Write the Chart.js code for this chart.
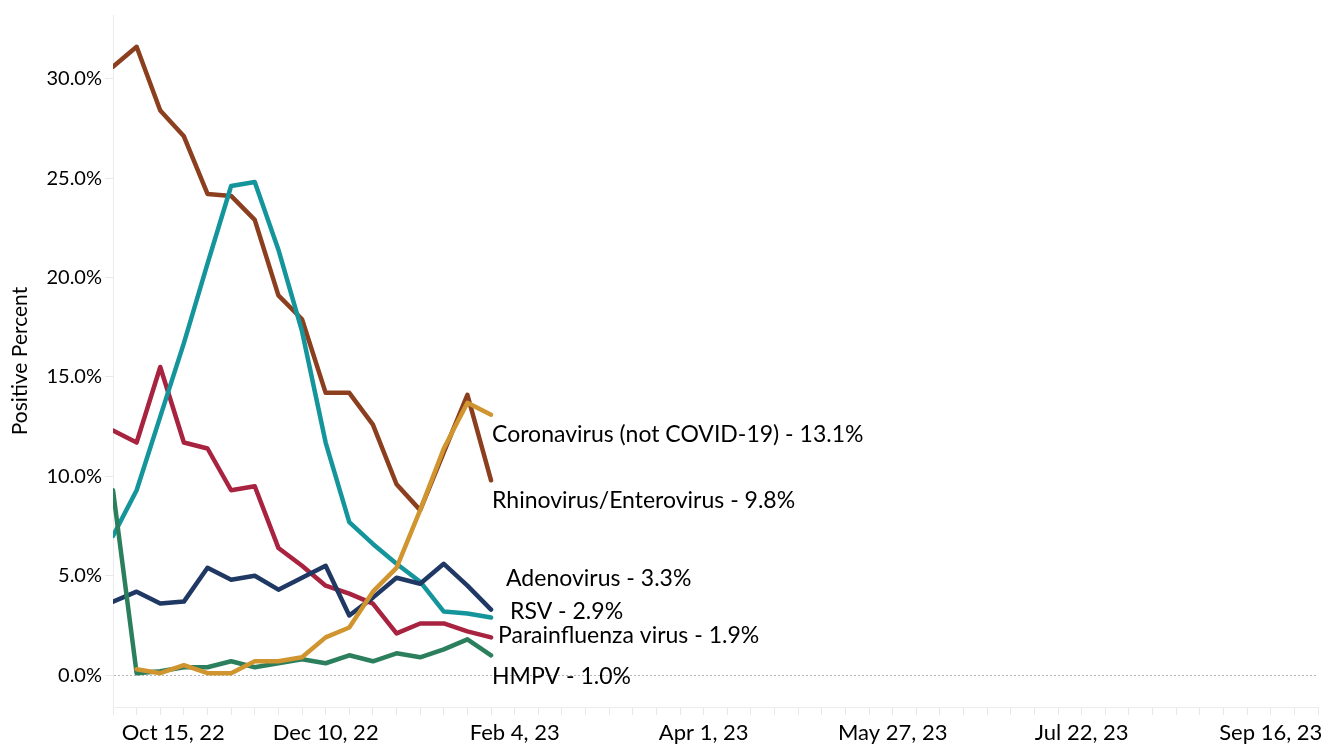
<!DOCTYPE html>
<html>
<head>
<meta charset="utf-8">
<script src="https://cdn.jsdelivr.net/npm/chart.js@4/dist/chart.umd.min.js"></script>
<style>
  html, body { margin: 0; padding: 0; background: #fff; }
  canvas { display: block; }
</style>
</head>
<body>
<canvas id="myVirusChart" width="1325" height="746"></canvas>
<script>
// week index 0 = Oct 8, 22 ; one step = one week
const xTickLabels = ["Oct 15, 22", "Dec 10, 22", "Feb 4, 23", "Apr 1, 23", "May 27, 23", "Jul 22, 23", "Sep 16, 23"];
const yTickValues = [0, 5, 10, 15, 20, 25, 30];

const virusNames = [
  "Rhinovirus/Enterovirus",
  "Parainfluenza virus",
  "RSV",
  "Adenovirus",
  "HMPV",
  "Coronavirus (not COVID-19)",
];

const rhinovirus = [30.6, 31.6, 28.4, 27.1, 24.2, 24.1, 22.9, 19.1, 17.9, 14.2, 14.2, 12.6, 9.6, 8.3, 11.2, 14.1, 9.8];
const parainfluenza = [12.3, 11.7, 15.5, 11.7, 11.4, 9.3, 9.5, 6.4, 5.5, 4.5, 4.1, 3.6, 2.1, 2.6, 2.6, 2.2, 1.9];
const rsv = [7.0, 9.3, 13.0, 16.7, 20.7, 24.6, 24.8, 21.4, 17.3, 11.7, 7.7, 6.6, 5.6, 4.7, 3.2, 3.1, 2.9];
const adenovirus = [3.7, 4.2, 3.6, 3.7, 5.4, 4.8, 5.0, 4.3, 4.9, 5.5, 3.0, 3.9, 4.9, 4.6, 5.6, 4.5, 3.3];
const hmpv = [9.3, 0.1, 0.2, 0.4, 0.4, 0.7, 0.4, 0.6, 0.8, 0.6, 1.0, 0.7, 1.1, 0.9, 1.3, 1.8, 1.0];
const coronavirus = [null, 0.3, 0.1, 0.5, 0.1, 0.1, 0.7, 0.7, 0.9, 1.9, 2.4, 4.2, 5.4, 8.3, 11.4, 13.7, 13.1];

const seriesValues = [rhinovirus, parainfluenza, rsv, adenovirus, hmpv, coronavirus];
const seriesColors = ["#8c3f1e", "#a8233f", "#14959c", "#1f3864", "#2b7f5c", "#d0952f"];
// drawing order: higher number is drawn first (underneath)
const seriesOrder = [6, 5, 4, 3, 2, 1];
// where each end label sits, relative to the last point of its line
const labelOffsets = [
  { dx: 1, dy: 20 },
  { dx: 7, dy: -2 },
  { dx: 19, dy: -6 },
  { dx: 15, dy: -31 },
  { dx: 1, dy: 21 },
  { dx: 1, dy: 20 },
];

const fontFamily = "Lato, 'Open Sans', sans-serif";

const endLabels = {
  id: "endLabels",
  afterDatasetsDraw(chart) {
    const ctx = chart.ctx;
    ctx.save();
    ctx.font = "23px " + fontFamily;
    ctx.fillStyle = "#000";
    ctx.textAlign = "left";
    ctx.textBaseline = "middle";
    chart.data.datasets.forEach((ds, i) => {
      const meta = chart.getDatasetMeta(i);
      const last = meta.data[meta.data.length - 1];
      const values = seriesValues[i];
      const lastValue = values[values.length - 1];
      const text = virusNames[i] + " - " + lastValue.toFixed(1) + "%";
      ctx.fillText(text, last.x + labelOffsets[i].dx, last.y + labelOffsets[i].dy);
    });
    ctx.restore();
  },
};

const makePoints = (values) => {
  const points = [];
  for (let i = 0; i < values.length; i++) {
    points.push({ x: i, y: values[i] });
  }
  return points;
};

const datasets = virusNames.map((name, i) => ({
  label: name,
  data: makePoints(seriesValues[i]),
  borderColor: seriesColors[i],
  backgroundColor: seriesColors[i],
  borderWidth: 4.5,
  borderJoinStyle: "round",
  borderCapStyle: "round",
  pointRadius: 0,
  tension: 0,
  order: seriesOrder[i],
}));

const config = {
  type: "line",
  data: { datasets: datasets },
  options: {
    responsive: false,
    animation: false,
    layout: { padding: { top: 8, right: 7, left: 0, bottom: 0 } },
    plugins: {
      legend: { display: false },
      tooltip: { enabled: false },
    },
    scales: {
      x: {
        type: "linear",
        min: 0,
        max: 51,
        afterBuildTicks: (scale) => {
          const ticks = [];
          for (let i = 0; i <= 51; i++) ticks.push({ value: i });
          scale.ticks = ticks;
        },
        afterFit: (scale) => {
          scale.height = 39;
        },
        ticks: {
          autoSkip: false,
          maxRotation: 0,
          padding: 5,
          color: "#000",
          font: { family: fontFamily, size: 22 },
          callback: (value) => {
            if ((value - 1) % 8 === 0) {
              const label = xTickLabels[(value - 1) / 8];
              // the first label is pushed right so it stays inside the plot, as in the source
              return value === 1 ? " ".repeat(13) + label : label;
            }
            return "";
          },
        },
        grid: {
          drawOnChartArea: false,
          tickLength: 8,
          tickColor: "#e8e8e8",
        },
        border: { color: "#ececec", width: 1 },
      },
      y: {
        min: -1.6,
        max: 33.2,
        afterBuildTicks: (scale) => {
          scale.ticks = yTickValues.map((v) => ({ value: v }));
        },
        afterFit: (scale) => {
          scale.width = 113;
        },
        ticks: {
          padding: 3,
          color: "#000",
          font: { family: fontFamily, size: 20 },
          callback: (value) => value.toFixed(1) + "%",
        },
        grid: {
          tickLength: 8,
          tickColor: "#e8e8e8",
          color: (c) => (c.tick && c.tick.value === 0 ? "#b5b5b5" : "rgba(0,0,0,0)"),
        },
        border: { color: "#ececec", width: 1, dash: [2, 2] },
        title: {
          display: true,
          text: "Positive Percent",
          color: "#000",
          font: { family: fontFamily, size: 21 },
          padding: { top: 8, bottom: 0 },
        },
      },
    },
  },
  plugins: [endLabels],
};

// eslint-disable-next-line no-undef
const myVirusChart = new Chart(document.getElementById("myVirusChart"), config);
</script>
</body>
</html>
